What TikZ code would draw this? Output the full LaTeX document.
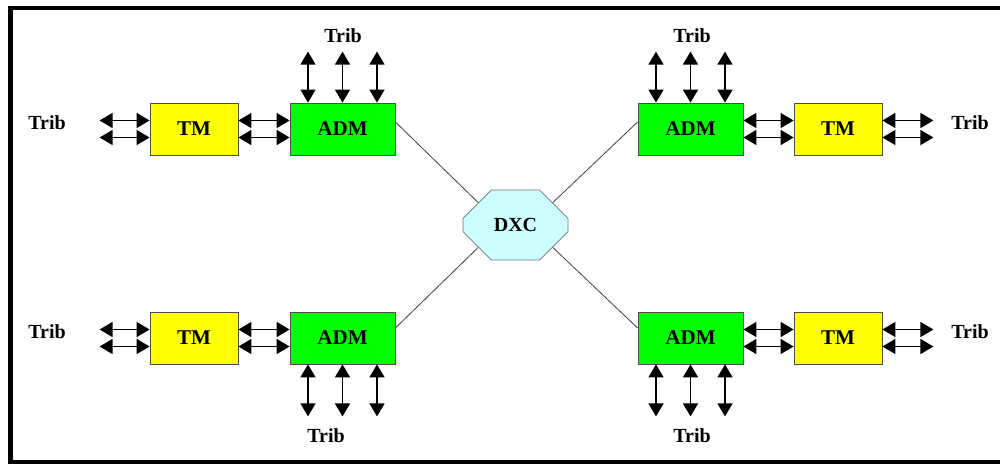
\documentclass[tikz,border=0pt]{standalone}
\usepackage{fontspec}
\setmainfont{Liberation Serif}
\usetikzlibrary{arrows.meta,shapes.misc}
\definecolor{tmyellow}{HTML}{FFFF00}
\definecolor{admgreen}{HTML}{00FF00}
\definecolor{dxccyan}{HTML}{CCFFFF}
\begin{document}
\begin{tikzpicture}[x=1pt,y=-1pt,
  box/.style={rectangle,draw=black!70,line width=0.8pt,minimum height=52pt,inner sep=0pt,font=\fontsize{21}{24}\selectfont\bfseries},
  tm/.style={box,fill=tmyellow,minimum width=88pt},
  adm/.style={box,fill=admgreen,minimum width=105pt},
  dxc/.style={chamfered rectangle,chamfered rectangle xsep=21pt,chamfered rectangle ysep=22pt,fill=dxccyan,draw=black!55,line width=0.8pt,minimum width=105pt,minimum height=70pt,inner sep=0pt,font=\fontsize{20}{24}\selectfont\bfseries},
  lbl/.style={font=\fontsize{20}{24}\selectfont\bfseries,inner sep=0pt},
  trib/.style={{Triangle[width=15pt,length=13pt]}-{Triangle[width=15pt,length=13pt]},line width=1.5pt},
  link/.style={draw=black!75,line width=0.8pt}]
\def\ty{129};
\def\by{338};
\useasboundingbox (0,0) rectangle (1003,464);
\draw[line width=4.2pt] (1000,8) -- (10.5,8) -- (10.5,462) -- (1000,462);

\node[tm] (tmTL) at (194,\ty) {TM};
\node[adm] (admTL) at (342.5,\ty) {ADM};
\node[adm] (admTR) at (690.5,\ty) {ADM};
\node[tm] (tmTR) at (838,\ty) {TM};
\node[tm] (tmBL) at (194,\by) {TM};
\node[adm] (admBL) at (342.5,\by) {ADM};
\node[adm] (admBR) at (690.5,\by) {ADM};
\node[tm] (tmBR) at (838,\by) {TM};
\node[dxc] (dxc) at (515.5,225) {DXC};

\node[lbl] (tribTL) at (343,36) {Trib};
\node[lbl] (tribTR) at (692,36) {Trib};
\node[lbl] (tribBL) at (326,436) {Trib};
\node[lbl] (tribBR) at (692,436) {Trib};
\node[lbl] (tribL1) at (47,123) {Trib};
\node[lbl] (tribL2) at (47,332) {Trib};
\node[lbl] (tribR1) at (970,123) {Trib};
\node[lbl] (tribR2) at (970,332) {Trib};

% links to the cross-connect
\draw[link] ([yshift=7pt]admTL.east) -- (dxc.149);
\draw[link] ([yshift=7pt]admTR.west) -- (dxc.31);
\draw[link] ([yshift=10pt]admBL.east) -- (dxc.211);
\draw[link] ([yshift=10pt]admBR.west) -- (dxc.329);

% tributaries
\foreach \s in {8.5,-8.5} {
  \draw[trib] ([yshift=\s pt]tmTL.west) -- +(-50,0);
  \draw[trib] ([yshift=\s pt]tmTL.east) -- ([yshift=\s pt]admTL.west);
  \draw[trib] ([yshift=\s pt]admTR.east) -- ([yshift=\s pt]tmTR.west);
  \draw[trib] ([yshift=\s pt]tmTR.east) -- +(51,0);
  \draw[trib] ([yshift=\s pt]tmBL.west) -- +(-50,0);
  \draw[trib] ([yshift=\s pt]tmBL.east) -- ([yshift=\s pt]admBL.west);
  \draw[trib] ([yshift=\s pt]admBR.east) -- ([yshift=\s pt]tmBR.west);
  \draw[trib] ([yshift=\s pt]tmBR.east) -- +(51,0);
}
\foreach \s in {-34.5,0,34.5} {
  \draw[trib] ([xshift=\s pt]admTL.north) -- +(0,-51);
  \draw[trib] ([xshift=\s pt]admTR.north) -- +(0,-51);
  \draw[trib] ([xshift=\s pt]admBL.south) -- +(0,52);
  \draw[trib] ([xshift=\s pt]admBR.south) -- +(0,52);
}
\end{tikzpicture}
\end{document}
